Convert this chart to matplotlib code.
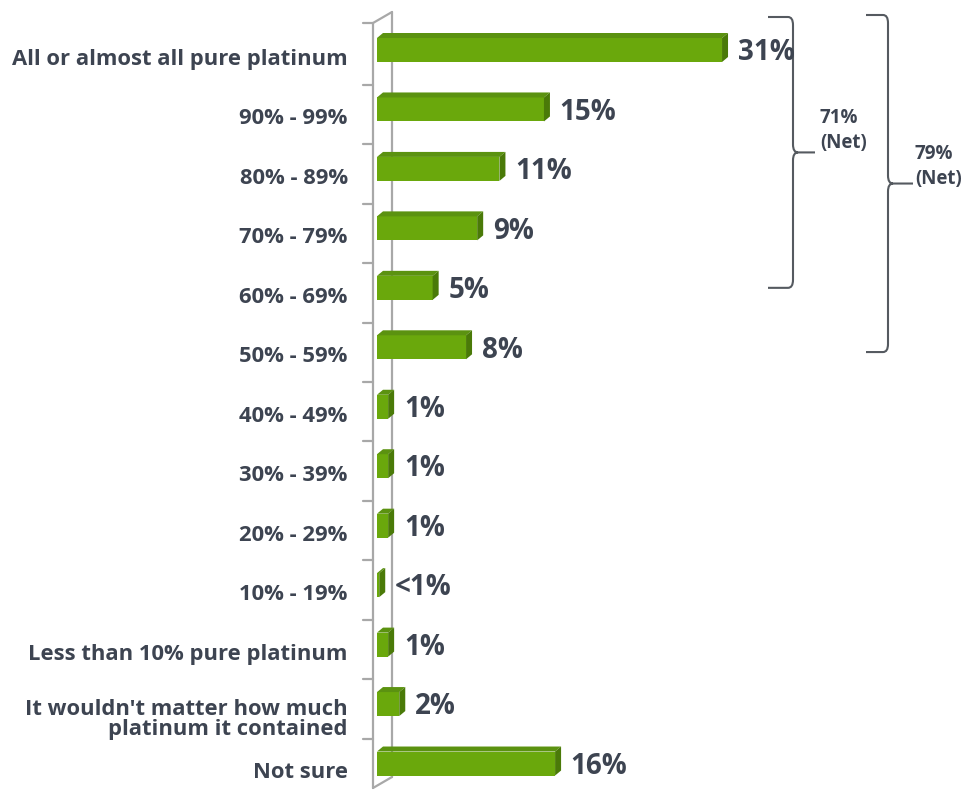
import numpy as np
import matplotlib
matplotlib.use("Agg")
import matplotlib.pyplot as plt
from matplotlib.patches import Polygon, PathPatch
from matplotlib.path import Path
from matplotlib.transforms import ScaledTranslation

# survey answers, top to bottom
categories = [
    "All or almost all pure platinum",
    "90% - 99%",
    "80% - 89%",
    "70% - 79%",
    "60% - 69%",
    "50% - 59%",
    "40% - 49%",
    "30% - 39%",
    "20% - 29%",
    "10% - 19%",
    "Less than 10% pure platinum",
    "It wouldn't matter how much\nplatinum it contained",
    "Not sure",
]
values = [31, 15, 11, 9, 5, 8, 1, 1, 1, 0.2, 1, 2, 16]
value_labels = ["31%", "15%", "11%", "9%", "5%", "8%", "1%", "1%", "1%",
                "<1%", "1%", "2%", "16%"]

# net groupings shown with braces: (first row, last row, label)
nets = [(0, 4, "71%\n(Net)"), (0, 5, "79%\n(Net)")]

text_col = "#3d4451"
front_col = "#6aa80c"
top_col = "#5b9210"
side_col = "#4a7a08"
wall_col = "#a8a8a8"
brace_col = "#555a60"

plt.rcParams["font.family"] = ["Open Sans", "DejaVu Sans"]

fig = plt.figure(figsize=(9.67, 7.98), dpi=100)
W, H = 967, 798
x0_px = 377
px_per_pct = 11.13
row_px = 59.46
row0_px = 50

ax = fig.add_axes([x0_px / W, 0, 1 - x0_px / W, 1])
ax.set_xlim(0, (W - x0_px) / px_per_pct)
ax.set_ylim((H - row0_px) / row_px, -row0_px / row_px)
for s in ax.spines.values():
    s.set_visible(False)
ax.set_xticks([])

ypos = np.arange(len(categories))
ax.set_yticks(ypos)
ax.set_yticklabels(categories, fontsize=15.8, fontweight="bold",
                   color=text_col, linespacing=0.92)
ax.tick_params(axis="y", length=0, pad=21)
# labels sit a little below the bar centres; the two-line one even more
for lbl in ax.get_yticklabels():
    down = 10 if "\n" in lbl.get_text() else 5
    shift = ScaledTranslation(0, -down / 72, fig.dpi_scale_trans)
    lbl.set_transform(lbl.get_transform() + shift)

# px -> data helpers
def dx(px):
    return px / px_per_pct

def dy(px):
    return px / row_px

# back wall of the 3D axis
wf, wb = dx(-4), dx(15)
top_f, top_b = dy(23 - row0_px), dy(12 - row0_px)
bot_f, bot_b = dy(788 - row0_px), dy(777 - row0_px)
wall = dict(color=wall_col, lw=1.6, clip_on=False, solid_capstyle="round")
ax.plot([wf, wf], [top_f, bot_f], **wall)
ax.plot([wb, wb], [top_b, bot_b], **wall)
ax.plot([wf, wb], [top_f, top_b], **wall)
ax.plot([wf, wb], [bot_f, bot_b], **wall)
tick_y = [top_f] + [k + 0.5 + dy(5) for k in range(len(categories) - 1)]
for ty in tick_y:
    ax.plot([dx(-14), wf], [ty, ty], **wall)

# 3D bars: front face, top face and side face
h = dy(24)
ddx, ddy = dx(6), dy(-5)
ax.barh(ypos, values, height=h, color=front_col, zorder=3)
for y, v, lab in zip(ypos, values, value_labels):
    t = y - h / 2
    b = y + h / 2
    ax.add_patch(Polygon([(0, t), (v, t), (v + ddx, t + ddy), (ddx, t + ddy)],
                         closed=True, color=top_col, lw=0, zorder=3))
    ax.add_patch(Polygon([(v, t), (v, b), (v + ddx, b + ddy), (v + ddx, t + ddy)],
                         closed=True, color=side_col, lw=0, zorder=3))
    ax.annotate(lab, (v + ddx, y), xytext=(7, -2), textcoords="offset points",
                ha="left", va="center", fontsize=20, fontweight="bold",
                color=text_col)

# curly braces for the net totals
def brace(x, y0, y1, ym, tip, nub):
    r = dx(5)
    q = dy(8)
    verts = [(x - tip, y0), (x - r, y0), (x, y0), (x, y0 + q),
             (x, ym - q), (x, ym), (x + r, ym), (x + nub, ym),
             (x + r, ym), (x, ym), (x, ym + q),
             (x, y1 - q), (x, y1), (x - r, y1), (x - tip, y1)]
    codes = [Path.MOVETO, Path.LINETO, Path.CURVE3, Path.CURVE3,
             Path.LINETO, Path.CURVE3, Path.CURVE3, Path.LINETO,
             Path.MOVETO, Path.CURVE3, Path.CURVE3,
             Path.LINETO, Path.CURVE3, Path.CURVE3, Path.LINETO]
    ax.add_patch(PathPatch(Path(verts, codes), fill=False, ec=brace_col,
                           lw=1.5, clip_on=False))

brace_x = [dx(793 - x0_px), dx(888 - x0_px)]
brace_top = [dy(17 - row0_px), dy(15 - row0_px)]
brace_bot_off = [0.0, 0.08]
brace_tip = [dx(25), dx(22)]
brace_nub = [dx(22), dx(25)]
text_x = [dx(820 - x0_px), dx(915 - x0_px)]
text_up = [dy(22), dy(17)]
for i, (first, last, txt) in enumerate(nets):
    bx = brace_x[i]
    y0 = brace_top[i]
    y1 = last + brace_bot_off[i]
    ym = (y0 + y1) / 2
    brace(bx, y0, y1, ym, brace_tip[i], brace_nub[i])
    ax.text(text_x[i], ym - text_up[i], txt, ha="left",
            va="center", fontsize=13.5, fontweight="bold", color=text_col,
            linespacing=1.3)

fig.savefig("out.png", dpi=100, facecolor="white")
